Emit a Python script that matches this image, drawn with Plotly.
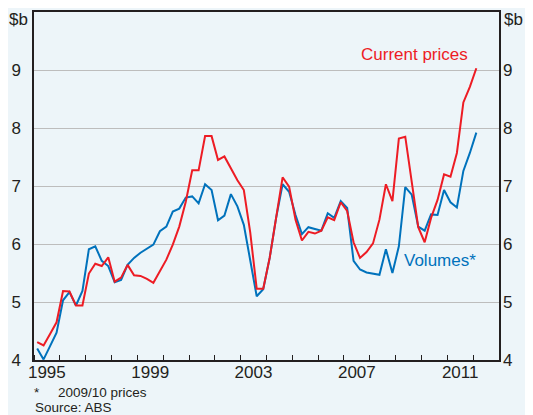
import pandas as pd
import plotly.graph_objects as go

# Quarterly data, 1995 Q1 to 2012 Q1 ($b)
quarters = pd.period_range("1995Q1", "2012Q1", freq="Q")

current_prices = [
    4.31, 4.25, 4.45, 4.65, 5.19, 5.18, 4.94, 4.94, 5.49, 5.66,
    5.62, 5.77, 5.35, 5.42, 5.64, 5.46, 5.45, 5.40, 5.33, 5.53,
    5.73, 5.99, 6.30, 6.73, 7.27, 7.27, 7.86, 7.86, 7.45, 7.51,
    7.30, 7.10, 6.93, 6.20, 5.23, 5.23, 5.76, 6.45, 7.15, 6.99,
    6.42, 6.06, 6.21, 6.18, 6.23, 6.46, 6.41, 6.72, 6.57, 6.03,
    5.76, 5.86, 6.01, 6.42, 7.03, 6.74, 7.82, 7.85, 7.10, 6.29,
    6.03, 6.45, 6.76, 7.20, 7.16, 7.57, 8.44, 8.71, 9.03,
]

volumes = [
    4.20, 4.01, 4.24, 4.47, 5.03, 5.17, 4.94, 5.19, 5.91, 5.96,
    5.71, 5.62, 5.34, 5.38, 5.64, 5.76, 5.85, 5.92, 5.99, 6.22,
    6.30, 6.56, 6.61, 6.80, 6.82, 6.70, 7.03, 6.93, 6.41, 6.49,
    6.86, 6.65, 6.33, 5.72, 5.10, 5.22, 5.76, 6.45, 7.03, 6.90,
    6.50, 6.17, 6.29, 6.26, 6.23, 6.53, 6.45, 6.74, 6.62, 5.71,
    5.56, 5.51, 5.49, 5.47, 5.91, 5.50, 5.96, 6.98, 6.85, 6.30,
    6.23, 6.51, 6.50, 6.93, 6.72, 6.63, 7.26, 7.57, 7.92,
]

year_labels = ["1995", "1999", "2003", "2007", "2011"]
y_ticks = [4, 5, 6, 7, 8, 9]

x_dates = [p.start_time + (p.end_time - p.start_time) / 2 for p in quarters]
label_pos = [f"{y}-07-02" for y in year_labels]

BG = "#EDF5F9"
INK = "#231F20"
RED = "#ED1C24"
BLUE = "#0072BC"
FONT = "Liberation Sans, Arial, sans-serif"

fig = go.Figure()
fig.add_trace(go.Scatter(x=x_dates, y=volumes, mode="lines",
                         line=dict(color=BLUE, width=2), name="Volumes*",
                         showlegend=False))
fig.add_trace(go.Scatter(x=x_dates, y=current_prices, mode="lines",
                         line=dict(color=RED, width=2), name="Current prices",
                         showlegend=False, yaxis="y2"))

# the page body adds an 8px margin, so the figure is sized to fit the window
fig.update_layout(
    width=525, height=407, autosize=False,
    margin=dict(l=26, r=34, t=2, b=55, pad=0),
    paper_bgcolor=BG, plot_bgcolor=BG,
    font=dict(family=FONT, size=17, color=INK),
    xaxis=dict(
        type="date", range=["1995-01-01", "2013-01-01"],
        tickmode="array", tickvals=label_pos, ticktext=year_labels,
        ticks="", showgrid=False, zeroline=False,
        showline=True, linecolor=INK, linewidth=1.5, mirror=True,
        tickfont=dict(size=17, color=INK), ticklabelstandoff=-4,
        minor=dict(tick0="1995-01-01", dtick="M12", ticks="inside",
                   ticklen=5, tickwidth=1.2, tickcolor=INK, showgrid=False),
    ),
    yaxis=dict(
        range=[4, 10], tickmode="array", tickvals=y_ticks,
        showgrid=True, gridcolor="#BDBDBD", gridwidth=1.3, zeroline=False,
        showline=True, linecolor=INK, linewidth=1.5, mirror=True,
        ticks="", tickfont=dict(size=17, color=INK), ticklabelstandoff=8,
    ),
    yaxis2=dict(
        range=[4, 10], tickmode="array", tickvals=y_ticks,
        overlaying="y", side="right", showgrid=False, zeroline=False,
        showline=False, ticks="", tickfont=dict(size=17, color=INK),
        ticklabelstandoff=3,
    ),
)

annotations = [
    dict(text="$b", xref="paper", yref="paper", x=0, y=1, xanchor="right",
         yanchor="middle", xshift=-5, yshift=-7, showarrow=False,
         borderpad=0, font=dict(size=17, color=INK)),
    dict(text="$b", xref="paper", yref="paper", x=1, y=1, xanchor="left",
         yanchor="middle", xshift=4, yshift=-7, showarrow=False,
         borderpad=0, font=dict(size=17, color=INK)),
    dict(text="Current prices", xref="paper", yref="y", x=0.819, y=9.26,
         xanchor="center", yanchor="middle", showarrow=False,
         font=dict(size=17, color=RED)),
    dict(text="Volumes*", xref="paper", yref="y", x=0.874, y=5.71,
         xanchor="center", yanchor="middle", showarrow=False,
         font=dict(size=17, color=BLUE)),
    dict(text="*&nbsp;&nbsp;&nbsp;&nbsp;&nbsp;2009/10 prices", xref="paper",
         yref="paper", x=0, y=-0.0943, xanchor="left", yanchor="middle",
         xshift=-2, showarrow=False, font=dict(size=13.5, color=INK)),
    dict(text="Source: ABS", xref="paper", yref="paper", x=0, y=-0.137,
         xanchor="left", yanchor="middle", xshift=-1, showarrow=False,
         font=dict(size=13.5, color=INK)),
]
fig.update_layout(annotations=annotations)

fig.write_html("out.html")
